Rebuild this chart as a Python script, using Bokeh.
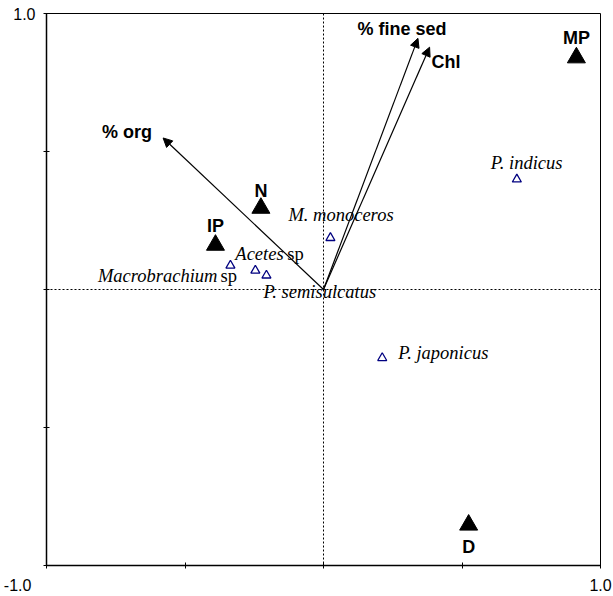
from bokeh.plotting import figure
from bokeh.models import ColumnDataSource, FixedTicker, Span, Arrow, NormalHead
from bokeh.core.properties import value
from bokeh.embed import file_html
from bokeh.resources import INLINE

# ---- data ----
site_names = ["MP", "N", "IP", "D"]
site_x = [0.913, -0.226, -0.390, 0.524]
site_y = [0.840, 0.295, 0.161, -0.853]

species_names = ["P. indicus", "M. monoceros", "P. japonicus",
                 "Macrobrachium sp", "Acetes sp", "P. semisulcatus"]
species_x = [0.698, 0.025, 0.212, -0.336, -0.246, -0.206]
species_y = [0.399, 0.187, -0.248, 0.087, 0.069, 0.051]

vector_names = ["% org", "% fine sed", "Chl"]
vector_x = [-0.579, 0.341, 0.383]
vector_y = [0.549, 0.910, 0.878]

ticks = [-1.0, -0.5, 0.0, 0.5, 1.0]

# ---- styles (screen offsets) ----
site_dy = [-20, -17, -19, 22]
sp_align = ["left", "left", "left", "right", "left", "left"]
sp_dx = [-26, -42, 16, -13, -20, -3]
sp_dy = [-16, -23, -5, 11, -16, 17]
sp_suffix_dx = {"Macrobrachium sp": -10, "Acetes sp": 32}
vec_align = ["right", "center", "left"]
vec_dx = [-11, -16, 2]
vec_dy = [-6, -9, 15]

SANS = "Liberation Sans"
SERIF = "Liberation Serif"

p = figure(width=613, height=596, x_range=(-1, 1), y_range=(-1, 1),
           output_backend="svg", toolbar_location=None,
           min_border_left=46, min_border_right=13, min_border_top=13,
           min_border_bottom=30)
p.grid.visible = False
p.outline_line_color = "black"
p.outline_line_width = 1
p.background_fill_color = "white"
p.border_fill_color = "white"

nb = "\u00a0" * 13
for ax, over in ((p.xaxis[0], {-1.0: "-1.0" + nb, -0.5: "", 0.0: "", 0.5: "", 1.0: "1.0"}),
                 (p.yaxis[0], {-1.0: "", -0.5: "", 0.0: "", 0.5: "", 1.0: "1.0"})):
    ax.ticker = FixedTicker(ticks=ticks)
    ax.major_label_overrides = over
    ax.axis_line_width = 1.5
    ax.axis_line_color = "black"
    ax.major_tick_in = 3
    ax.major_tick_out = 3
    ax.major_tick_line_color = "black"
    ax.minor_tick_line_color = None
    ax.major_label_text_font = SANS
    ax.major_label_text_font_size = "16px"
    ax.major_label_text_color = "black"
p.xaxis[0].major_label_standoff = 8
p.yaxis[0].major_label_standoff = 8

# dashed zero lines
p.add_layout(Span(location=0, dimension="height", line_color="black",
                  line_dash="2 2", line_width=1))
p.add_layout(Span(location=0, dimension="width", line_color="black",
                  line_dash="2 2", line_width=1))

# vectors
vsrc = ColumnDataSource(dict(x0=[0] * len(vector_x), y0=[0] * len(vector_y),
                             x1=vector_x, y1=vector_y, name=vector_names,
                             align=vec_align, dx=vec_dx, dy=vec_dy))
p.add_layout(Arrow(end=NormalHead(size=9, fill_color="black", line_color="black", line_width=1),
                   x_start="x0", y_start="y0", x_end="x1", y_end="y1",
                   line_color="black", line_width=1.2, source=vsrc))
p.text(x="x1", y="y1", text="name", source=vsrc, text_align="align",
       x_offset="dx", y_offset="dy", text_baseline="middle",
       text_font=value(SANS), text_font_style="bold", text_font_size="18px",
       text_color="black")

# species
italic = [n[:-3] if n.endswith(" sp") else n for n in species_names]
ssrc = ColumnDataSource(dict(x=species_x, y=species_y, name=italic,
                             align=sp_align, dx=sp_dx, dy=sp_dy))
p.scatter(x="x", y="y", source=ssrc, marker="triangle", size=9,
          fill_color=None, line_color="#000080", line_width=1.3)
p.text(x="x", y="y", text="name", source=ssrc, text_align="align",
       x_offset="dx", y_offset="dy", text_baseline="middle",
       text_font=value(SERIF), text_font_style="italic", text_font_size="18.5px",
       text_color="black")
suf_idx = [i for i, n in enumerate(species_names) if n.endswith(" sp")]
sufsrc = ColumnDataSource(dict(x=[species_x[i] for i in suf_idx],
                               y=[species_y[i] for i in suf_idx],
                               t=["sp" for i in suf_idx],
                               dx=[sp_suffix_dx[species_names[i]] for i in suf_idx],
                               dy=[sp_dy[i] for i in suf_idx]))
p.text(x="x", y="y", text="t", source=sufsrc, text_align="left",
       x_offset="dx", y_offset="dy", text_baseline="middle",
       text_font=value(SERIF), text_font_size="18.5px", text_color="black")

# sites
tsrc = ColumnDataSource(dict(x=site_x, y=site_y, name=site_names, dy=site_dy))
p.scatter(x="x", y="y", source=tsrc, marker="triangle", size=18,
          fill_color="black", line_color="black")
p.text(x="x", y="y", text="name", source=tsrc, text_align="center",
       y_offset="dy", text_baseline="middle",
       text_font=value(SANS), text_font_style="bold", text_font_size="18px",
       text_color="black")

open("out.html", "w").write(file_html(p, INLINE))
